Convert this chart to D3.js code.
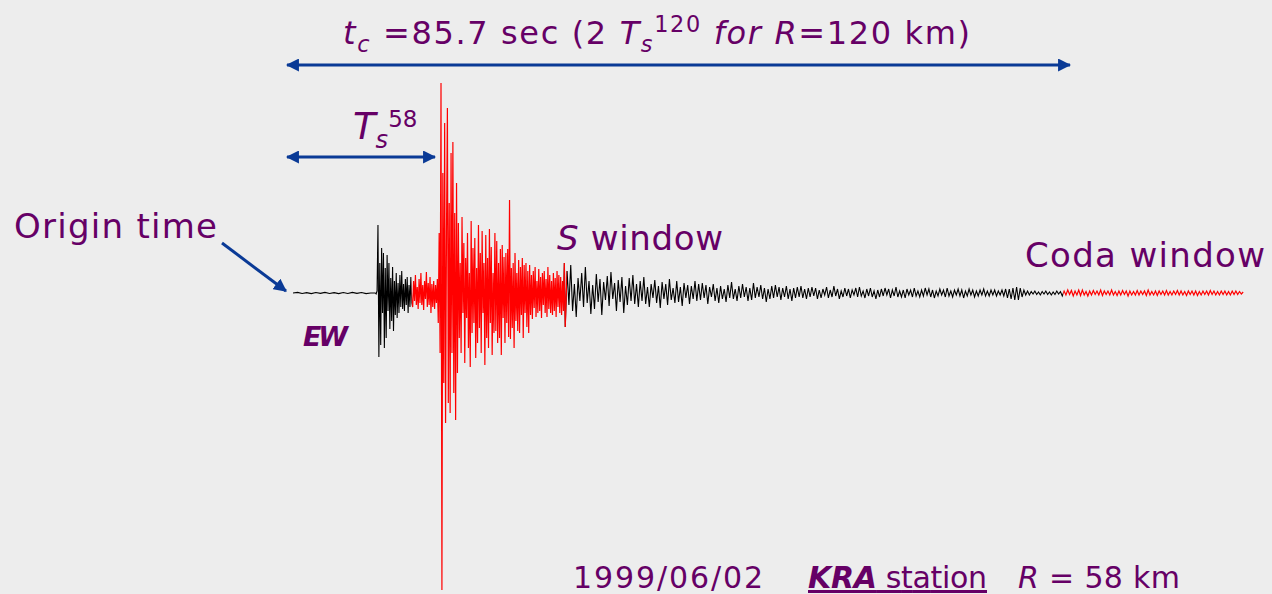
<!DOCTYPE html>
<html>
<head>
<meta charset="utf-8">
<script src="https://cdn.jsdelivr.net/npm/d3@7"></script>
<style>
  html, body { margin: 0; padding: 0; background: #ededed; }
  svg { display: block; }
  text { font-family: "DejaVu Sans", "Open Sans", sans-serif; white-space: pre; }
</style>
</head>
<body>
<div id="chart"></div>
<script>
// EW component, KRA station, 1999/06/02 (amplitude, arbitrary units)
var preDt = 0.5;    // sec between samples before P
var bodyDt = 0.1;   // sec between samples, P + S part
var codaDt = 0.2;   // sec between samples, coda
var preStart = 0;

var preEvent = [0,0.6,-0.5,0.4,-0.6,0.5,-0.4,0.6,-0.5,0.4,-0.6,0.5,-0.5,0.6,-0.4,0.5,-0.6,0];

var body = [
  0,-1,2,
  // P
  68,-64,30,-52,45,-20,40,-55,25,-45,
  38,-18,30,-36,15,-28,26,-38,12,-22,
  20,-25,10,-20,18,-14,22,-16,9,-18,
  14,-12,16,-20,8,-14,16,-10,
  // before S
  -14,12,-8,18,-12,6,-16,14,-10,20,
  -12,8,-17,12,-6,21,-14,10,-12,16,
  -20,9,-14,12,-16,8,-10,14,
  // S
  -30,60,-60,210,-297,120,-90,170,-130,60,
  185,-110,90,-120,140,-60,151,-100,80,-127,110,-80,
  70,-45,30,-60,76,-20,50,-70,35,-25,
  60,-55,20,-74,72,-40,45,-30,55,-65,
  25,-50,68,-35,40,-60,62,-20,30,-72,
  58,-45,35,-55,64,-30,46,-62,20,-40,
  60,-38,52,-50,30,-45,44,-62,48,-25,
  36,-50,40,-30,44,-44,93,-46,25,-35,
  30,-55,40,-28,20,-38,33,-40,26,-22,
  35,-45,28,-20,30,-34,22,-40,
  28,-22,18,-26,22,-15,26,-24,12,-20,
  24,-18,16,-25,20,-12,22,-20,14,-24,
  26,-16,18,-20,12,-22,20,-18,15,-24,
  22,-14,18,-20,16,-22,12,-18,30
];

var coda = [
  -34,22,-12,28,-18,9,-24,15,-8,20,
  -14,26,-10,12,-21,8,-16,19,-9,14,
  -22,11,-7,17,-13,21,-6,10,-18,13,
  -9,16,-20,7,-12,15,-8,18,-11,9,
  -14,
  12,-8,16,-11,6,-14,9,-5,13,-10,
  7,-15,11,-6,9,-12,14,-7,5,-10,
  12,-9,6,-13,10,-5,8,-11,7,-6,
  12,-8,9,
  -7,10,-5,8,-11,6,-4,9,-8,5,
  -10,7,-6,4,-9,8,-5,11,-6,4,
  -8,7,-5,9,-4,6,-8,5,-7,10,
  -5,6,-4,8,-6,5,-9,4,-6,7,
  -5,8,-4,6,-7,5,-4,7,-6,4,
  -8,5,-5,6,-4,7,-5,4,-6,5,
  -4,6,-3,5,-6,3,-5,4,-2,6,
  -5,3,-4,7,-3,4,-6,2,-4,5,
  -3,4,-5,3,-2,5,-4,6,-3,2,
  -5,4,-3,5,-4,2,-6,3,-4,4,
  -3,5,-2,4,-5,3,-3,6,-4,2,
  -4,3,-5,4,-2,3,-4,5,-3,2,
  -4,3,-3,5,-2,4,-4,3,-5,2,
  -3,4,-2,3,-4,5,-3,2,-4,3,
  -2,4,-3,3,-5,2,-3,4,-2,3,
  -4,2,-3,3,-2,4,-3,2,-3,3,
  -2,3,-3,2,
  -2,3,-3,4,-5,4,-6,5,-7,6,
  -7,5,-4,3,-2,2,
  -2,1.5,-1,2,-1.5,1,-2,1.5,-1,2,
  -1.5,1,-2,1,-1.5,2,-1,1.5,
  -3,2,-2,3,-1.5,2.5,-3,2,-2,3,
  -2.5,3,-2,1.5,-3,2,-2,2.5,-1.5,2,
  -2,3,-2.5,2,-1.5,2,-2,3,-2,1.5,
  -2.5,2,-2,2.5,-1.5,2,-3,2,-2,1.5,
  -2,2.5,-2,2,-1.5,2,-2.5,3,-2,1.5,
  -2,2,-2.5,2,-1.5,2,-2,2.5,-2,1.5,
  -2,2,-1.5,2.5,-2,2,-2,1.5,-2.5,2,
  -1.5,2,-2,2,-2.5,1.5,-2,2,-1.5,2,
  -2,2.5,-1.5,2,-2,1.5,-2,2,-1.5,2,
  -2,1.5,-2,2,-1.5,2,-1.5,1.5,-1,1
];

var sWindow = [13.0, 29.55];     // sec
var codaWindow = [84.3, 104.2];  // sec
var tc = 85.7;                   // sec, 2 Ts for R=120 km
var ts58 = 16.2;                 // sec, Ts for R=58 km
var traceEnd = 104.2;

var width = 1272, height = 594;

var svg = d3.select('#chart').append('svg').attr('width', width).attr('height', height);
svg.append('rect').attr('width', width).attr('height', height).attr('fill', '#ededed');

var x = d3.scaleLinear().domain([0, traceEnd]).range([293, 1245]);
var y = d3.scaleLinear().domain([-300, 300]).range([593, -7]);

// join segments into one time series
var points = [];
preEvent.forEach(function(v, i){ points.push([preStart + i * preDt, v]); });
var bodyStart = preStart + preEvent.length * preDt;
body.forEach(function(v, i){ points.push([bodyStart + i * bodyDt, v]); });
var codaStart = bodyStart + body.length * bodyDt;
coda.forEach(function(v, i){ points.push([codaStart + i * codaDt, v]); });

var line = d3.line().x(function(d){ return x(d[0]); }).y(function(d){ return y(d[1]); });

var defs = svg.append('defs');
// red inside the windows, black outside
var redClip = defs.append('clipPath').attr('id', 'redPart');
var blackClip = defs.append('clipPath').attr('id', 'blackPart');
[sWindow, codaWindow].forEach(function(w){
  redClip.append('rect').attr('x', x(w[0])).attr('y', 0)
    .attr('width', x(w[1]) - x(w[0]) + 4).attr('height', height);
});
[[-10, sWindow[0]], [sWindow[1], codaWindow[0]]].forEach(function(w){
  blackClip.append('rect').attr('x', x(w[0])).attr('y', 0)
    .attr('width', x(w[1]) - x(w[0])).attr('height', height);
});

svg.append('path').datum(points).attr('d', line).attr('clip-path', 'url(#blackPart)')
  .attr('fill', 'none').attr('stroke', '#000').attr('stroke-width', 1.1);
svg.append('path').datum(points).attr('d', line).attr('clip-path', 'url(#redPart)')
  .attr('fill', 'none').attr('stroke', '#ff0000').attr('stroke-width', 1.2);

// arrows
var blue = '#0a3a96';
var purple = '#660066';
function head(id, orient){
  defs.append('marker').attr('id', id).attr('viewBox', '0 0 12 12')
    .attr('refX', 11).attr('refY', 6).attr('markerWidth', 13).attr('markerHeight', 13)
    .attr('markerUnits', 'userSpaceOnUse').attr('orient', orient)
    .append('path').attr('d', 'M0,0 L12,6 L0,12 Z').attr('fill', blue);
}
head('arr', 'auto');
head('arrStart', 'auto-start-reverse');

function arrow(x1, y1, x2, y2, both){
  var l = svg.append('line').attr('x1', x1).attr('y1', y1).attr('x2', x2).attr('y2', y2)
    .attr('stroke', blue).attr('stroke-width', 3).attr('marker-end', 'url(#arr)');
  if(both) l.attr('marker-start', 'url(#arrStart)');
}
arrow(x(0) - 6, 65, x(tc) - 6, 65, true);
arrow(x(0) - 6, 157, x(ts58) - 6, 157, true);
arrow(222, 243, 286, 291, false);

// labels
function fit(t, w){
  t.attr('textLength', w).attr('lengthAdjust', 'spacing');
  return t;
}

var title = svg.append('text').attr('x', 343).attr('y', 44).attr('font-size', 32).attr('fill', purple);
title.append('tspan').attr('font-style', 'italic').text('t');
title.append('tspan').attr('font-style', 'italic').attr('font-size', '70%').attr('dy', 8).text('c');
title.append('tspan').attr('dy', -8).text(' =85.7 sec (2 ');
title.append('tspan').attr('font-style', 'italic').text('T');
title.append('tspan').attr('font-style', 'italic').attr('font-size', '70%').attr('dy', 8).text('s');
title.append('tspan').attr('font-size', '70%').attr('dy', -20).text('120');
title.append('tspan').attr('font-style', 'italic').attr('dy', 12).text(' for R');
title.append('tspan').text('=120 km)');
fit(title, 627);

var ts = svg.append('text').attr('x', 353).attr('y', 139).attr('font-size', 37).attr('fill', purple);
ts.append('tspan').attr('font-style', 'italic').text('T');
ts.append('tspan').attr('font-style', 'italic').attr('font-size', '65%').attr('dy', 9).text('s');
ts.append('tspan').attr('font-size', '62%').attr('dy', -21).text('58');

fit(svg.append('text').attr('x', 14).attr('y', 238).attr('font-size', 34).attr('fill', purple)
  .text('Origin time'), 203);

var sw = svg.append('text').attr('x', 557).attr('y', 250).attr('font-size', 34).attr('fill', purple);
sw.append('tspan').attr('font-style', 'italic').text('S');
sw.append('tspan').text(' window');
fit(sw, 166);

fit(svg.append('text').attr('x', 1025).attr('y', 267).attr('font-size', 34).attr('fill', purple)
  .text('Coda window'), 240);

fit(svg.append('text').attr('x', 303).attr('y', 346).attr('font-size', 27).attr('fill', purple)
  .attr('font-style', 'italic').attr('font-weight', 'bold').text('EW'), 45);

fit(svg.append('text').attr('x', 573).attr('y', 588).attr('font-size', 30).attr('fill', purple)
  .text('1999/06/02'), 190);

var kra = svg.append('text').attr('x', 808).attr('y', 588).attr('font-size', 30).attr('fill', purple)
  .attr('text-decoration', 'underline');
kra.append('tspan').attr('font-style', 'italic').attr('font-weight', 'bold').text('KRA');
kra.append('tspan').text(' station');
fit(kra, 179);

var rr = svg.append('text').attr('x', 1018).attr('y', 588).attr('font-size', 30).attr('fill', purple);
rr.append('tspan').attr('font-style', 'italic').text('R');
rr.append('tspan').text(' = 58 km');
fit(rr, 162);
</script>
</body>
</html>
